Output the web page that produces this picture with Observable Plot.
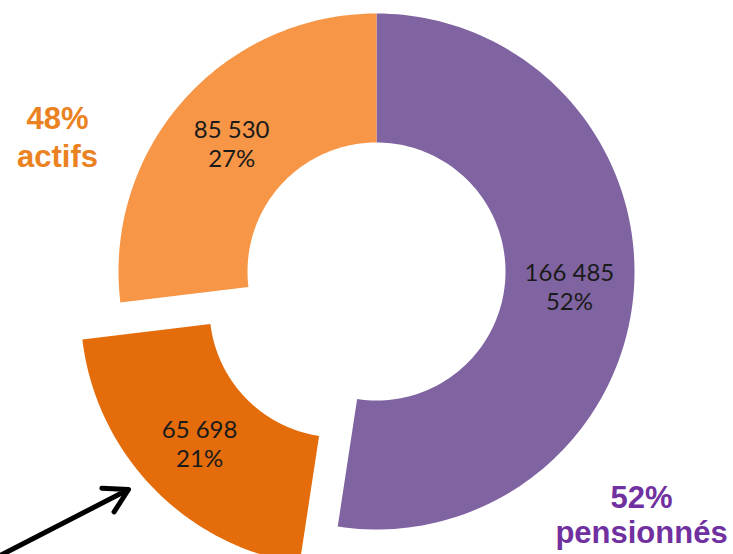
<!DOCTYPE html>
<html>
<head>
<meta charset="utf-8">
<script src="https://cdn.jsdelivr.net/npm/d3@7"></script>
<script src="https://cdn.jsdelivr.net/npm/@observablehq/plot@0.6"></script>
<style>
  html, body { margin: 0; padding: 0; background: #ffffff; overflow: hidden; }
  #chart svg { display: block; }
</style>
</head>
<body>
<div id="chart"></div>
<script>
// ---- data ----
const categories = ["pensionnés", "actifs A", "actifs B"];
const values = [166485, 65698, 85530];
const valueLabels = ["166 485", "65 698", "85 530"];
const percentLabels = ["52%", "21%", "27%"];
const groupLabels = ["48%\nactifs", "52%\npensionnés"];

// ---- style / layout ----
const W = 733, H = 554;
const cx = 376, cy = 271, R = 258;     // pixel centre and outer radius
const innerRatio = 0.5;
const explodedIndex = 1;
const explodeDist = 53 / R;
const sliceColors = ["#8064A2", "#E46C0A", "#F79646"];
const px = (x, y) => ({x: (x - cx) / R, y: (cy - y) / R});

// ---- geometry from data ----
const arcs = d3.pie().sort(null).value(d => d)(values);
const polyPoints = [];
const labelPoints = [];
arcs.forEach((a, i) => {
  const mid = (a.startAngle + a.endAngle) / 2;
  const off = i === explodedIndex ? explodeDist : 0;
  const ox = off * Math.sin(mid), oy = off * Math.cos(mid);
  const n = 120;
  const pt = (ang, r) => ({cat: categories[i], x: ox + r * Math.sin(ang), y: oy + r * Math.cos(ang)});
  for (let k = 0; k <= n; k++) polyPoints.push(pt(a.startAngle + (a.endAngle - a.startAngle) * k / n, 1));
  for (let k = n; k >= 0; k--) polyPoints.push(pt(a.startAngle + (a.endAngle - a.startAngle) * k / n, innerRatio));
  const rl = (1 + innerRatio) / 2;
  labelPoints.push({x: ox + rl * Math.sin(mid), y: oy + rl * Math.cos(mid), text: valueLabels[i] + "\n" + percentLabels[i]});
});

const groupPos = [px(57, 101), px(641, 483)];
const groupColors = ["#EB8221", "#7030A0"];
const groupLH = [1.24, 1.13];
const groupData = groupLabels.map((t, i) => ({...groupPos[i], text: t, color: groupColors[i]}));

const a1 = px(-8, 559), a2 = px(128, 489);
const arrowData = [{x1: a1.x, y1: a1.y, x2: a2.x, y2: a2.y}];

const chart = Plot.plot({
  width: W,
  height: H,
  margin: 0,
  x: {domain: [-cx / R, (W - cx) / R], axis: null},
  y: {domain: [-(H - cy) / R, cy / R], axis: null},
  color: {domain: categories, range: sliceColors},
  style: {background: "#ffffff", overflow: "hidden"},
  marks: [
    Plot.line(polyPoints, {x: "x", y: "y", z: "cat", fill: "cat", stroke: "none", curve: "linear"}),
    Plot.text(labelPoints, {x: "x", y: "y", text: "text", fontFamily: "Lato", fontSize: 24, lineHeight: 1.2, fill: "#1a1a1a", textAnchor: "middle", lineAnchor: "middle"}),
    ...groupData.map((g, i) => Plot.text([g], {x: "x", y: "y", text: "text", fill: g.color, fontFamily: "Liberation Sans", fontWeight: "bold", fontSize: 31, lineHeight: groupLH[i], textAnchor: "middle", lineAnchor: "top"})),
    Plot.arrow(arrowData, {x1: "x1", y1: "y1", x2: "x2", y2: "y2", stroke: "#000000", strokeWidth: 5, strokeLinecap: "round"})
  ]
});
document.getElementById("chart").appendChild(chart);
</script>
</body>
</html>
